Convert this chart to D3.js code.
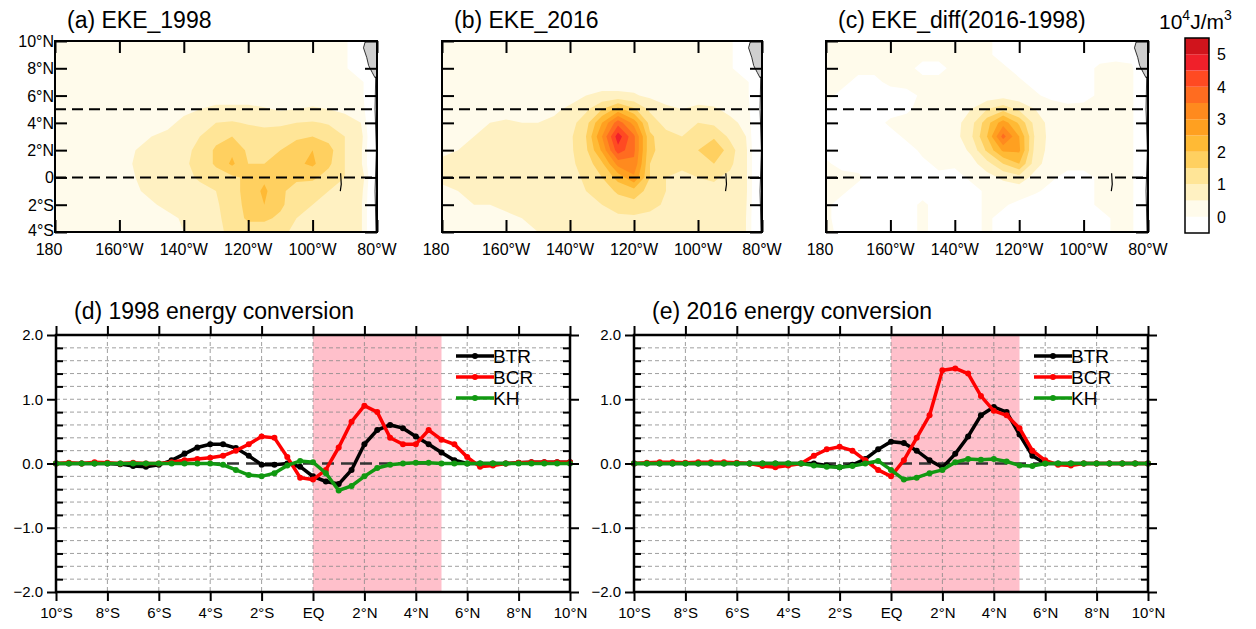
<!DOCTYPE html>
<html lang="en">
<head>
<meta charset="UTF-8">
<script src="https://d3js.org/d3.v7.min.js"></script>
<style>
  body { margin: 0; background: #fff; }
  text { font-family: "Liberation Sans", Arial, sans-serif; }
</style>
</head>
<body>
<div id="draw_here"></div>
<script>
// ---- map data: EKE grids, rows lat 10N..4S (1 deg), cols 180..80W (5 deg)
var mapLons = d3.range(180, 79, -5);
var mapLats = d3.range(10, -5, -1);

var eke1998 = [
  [.2,.2,.2,.2,.2,.2,.2,.2,.2,.2,.2,.2,.2,.2,.2,.2,.2,.2,.2,-1,-1],
  [.2,.2,.2,.2,.2,.2,.2,.2,.2,.2,.2,.2,.2,.2,.2,.2,.2,.2,.2,-1,-1],
  [.2,.2,.2,.2,.2,.2,.2,.2,.2,.2,.2,.2,.2,.2,.2,.2,.2,.2,.2,-1,-1],
  [.2,.2,.2,.2,.2,.2,.2,.2,.2,.2,.2,.2,.2,.2,.2,.2,.2,.2,.2,.2,-1],
  [.2,.2,.2,.2,.2,.2,.2,.2,.2,.2,.3,.3,.3,.2,.2,.2,.3,.3,.2,.2,-1],
  [.2,.2,.2,.2,.2,.2,.2,.3,.4,.5,.6,.6,.6,.55,.45,.5,.55,.5,.4,.3,-1],
  [.2,.2,.2,.2,.2,.2,.3,.4,.6,.8,1.0,1.05,.95,.9,.9,1.0,1.05,.95,.7,.5,-1],
  [.2,.2,.2,.2,.3,.4,.5,.6,.8,1.0,1.3,1.5,1.3,1.2,1.3,1.4,1.5,1.3,1.0,.7,-1],
  [.2,.2,.2,.2,.3,.5,.7,.8,.9,1.1,1.6,1.9,1.4,1.3,1.5,1.8,2.0,1.7,1.0,.6,-1],
  [.2,.2,.2,.2,.3,.55,.75,.85,.95,1.1,1.6,2.1,1.5,1.5,1.6,1.9,2.1,1.6,1.0,.6,-1],
  [.2,.2,.2,.2,.3,.5,.7,.85,.9,1.05,1.2,1.4,1.6,1.9,1.6,1.6,1.6,1.3,1.0,.9,-1],
  [.2,.2,.2,.2,.3,.45,.6,.8,.85,.9,1.0,1.3,1.7,2.1,1.6,1.3,1.2,1.0,.8,.7,-1],
  [.2,.2,.2,.2,.2,.3,.45,.6,.7,.8,.95,1.2,1.7,2.0,1.6,1.2,1.0,.8,.7,.6,-1],
  [.2,.2,.2,.2,.2,.2,.3,.4,.55,.7,.9,1.2,1.6,1.6,1.4,1.0,.8,.7,.7,.6,-1],
  [.2,.2,.2,.2,.2,.2,.25,.35,.5,.7,.9,1.1,1.2,1.2,1.1,.9,.8,.7,.6,.6,-1]
];

var eke2016 = [
  [.2,.2,.2,.2,.2,.2,.2,.2,.2,.2,.2,.2,.2,.2,.2,.2,.2,.2,.2,-1,-1],
  [.2,.2,.2,.2,.2,.2,.2,.2,.2,.2,.2,.2,.2,.2,.2,.2,.2,.2,.2,-1,-1],
  [.2,.2,.2,.2,.2,.2,.2,.2,.2,.2,.2,.2,.2,.2,.2,.2,.2,.2,.2,-1,-1],
  [.2,.2,.2,.2,.2,.2,.2,.2,.2,.2,.3,.3,.3,.2,.2,.2,.2,.2,.2,.2,-1],
  [.2,.2,.2,.2,.2,.2,.2,.2,.3,.5,.6,.6,.55,.4,.3,.3,.3,.3,.2,.2,-1],
  [.2,.2,.2,.2,.2,.2,.3,.4,.6,.9,1.5,2.2,1.6,.9,.6,.5,.6,.55,.4,.3,-1],
  [.2,.2,.3,.5,.6,.5,.5,.6,.8,1.3,2.5,3.8,2.8,1.3,.8,.8,1.0,.9,.6,.4,-1],
  [.3,.4,.5,.6,.6,.6,.6,.7,.9,1.5,3.0,4.8,3.6,1.6,1.2,1.0,1.3,1.4,.9,.5,-1],
  [.4,.5,.5,.6,.6,.6,.6,.7,.9,1.4,2.6,4.3,3.6,1.6,1.3,1.2,1.5,2.0,1.2,.6,-1],
  [.6,.6,.6,.5,.5,.6,.7,.8,.9,1.2,1.9,3.2,3.4,1.5,1.1,1.1,1.3,1.5,1.1,.6,-1],
  [.6,.6,.6,.55,.6,.7,.8,.85,.9,1.05,1.5,2.2,2.9,1.5,1.0,.9,1.0,1.05,.9,.6,-1],
  [.4,.5,.6,.6,.65,.7,.8,.85,.9,1.0,1.2,1.6,1.8,1.3,1.0,.9,.9,.9,.8,.6,-1],
  [.3,.4,.5,.5,.55,.6,.7,.8,.85,.9,1.0,1.2,1.3,1.1,.95,.9,.9,.85,.7,.55,-1],
  [.2,.3,.4,.4,.45,.5,.6,.7,.75,.8,.85,.9,.9,.9,.85,.8,.8,.75,.65,.5,-1],
  [.2,.3,.35,.4,.4,.45,.5,.6,.65,.7,.75,.8,.8,.8,.75,.7,.7,.65,.6,.5,-1]
];

var ekeDiff = [
  [.1,.1,.1,.1,.1,.1,.1,.1,.05,.1,.05,-.1,-.1,-.2,-.2,-.2,-.2,-.2,-.2,-.3,-1],
  [.1,.1,.1,.1,.05,.1,.1,.1,.1,.1,.05,-.1,-.2,-.2,-.2,-.2,-.2,-.1,-.1,-.2,-1],
  [.1,.1,.1,.1,.1,.1,-.1,-.1,.1,.1,.1,.05,-.1,-.2,-.2,-.2,-.1,.05,.1,.1,-1],
  [.1,.1,-.1,-.1,.1,.1,.1,.1,.1,.1,.1,.1,.05,-.1,-.2,-.2,-.1,.05,.1,.1,-1],
  [.1,-.1,-.1,-.1,-.2,-.1,.05,.1,.1,.15,.2,.3,.2,.05,-.1,-.15,-.1,.05,.1,.1,-1],
  [-.1,-.2,-.1,-.1,-.1,-.05,.1,.1,.2,.5,1.0,1.3,.9,.5,.2,.1,.1,.1,.1,.1,-1],
  [-.2,-.2,-.2,-.1,.05,.1,.1,.1,.3,.8,1.8,2.8,1.9,.8,.3,.15,.2,.2,.1,.1,-1],
  [-.1,-.1,-.2,-.2,-.1,.05,.1,.1,.3,.9,2.0,3.7,2.5,.9,.3,.3,.5,.4,.2,.1,-1],
  [-.1,-.1,-.2,-.2,-.2,-.1,.05,.05,.2,.6,1.6,2.6,2.6,.8,.3,.3,.4,.3,.1,.1,-1],
  [.05,-.1,-.1,-.1,-.1,-.1,-.05,.05,.05,.3,.8,1.5,2.0,.7,.2,.1,.1,.1,.05,.1,-1],
  [.1,.1,.05,-.1,-.1,-.1,-.1,-.05,-.1,.05,.3,.6,.8,.3,.05,-.1,-.1,.05,.1,.1,-1],
  [.1,.05,-.1,-.1,-.2,-.2,-.1,-.1,-.2,-.1,.05,.2,.2,.05,-.1,-.2,-.1,.05,.1,.1,-1],
  [.05,-.1,-.1,-.2,-.2,-.1,.05,-.1,-.2,-.1,.05,.05,-.1,-.2,-.2,-.2,-.1,.05,.1,.1,-1],
  [.05,-.1,-.2,-.2,-.2,-.1,.05,-.1,-.2,-.1,.05,-.1,-.2,-.2,-.2,-.2,-.1,-.1,.05,.1,-1],
  [.1,-.1,-.1,-.2,-.2,-.1,.05,-.1,-.2,-.1,.05,-.1,-.2,-.2,-.2,-.2,-.2,-.1,.05,.1,-1]
];

var levels = d3.range(0, 5.01, 0.5);
var levelColors = ["#fffbeb","#fff1c2","#ffe597","#ffd060","#ffba35","#ffa020",
                   "#ff8a1e","#ff6c20","#ff4a22","#f0202a","#d0141c"];
var cbLabels = [0, 1, 2, 3, 4, 5];

// ---- energy conversion, lat -10..10 every 0.5 deg
var lats = d3.range(-10, 10.01, 0.5);
var btr1998 = [0,0,0,0,0,-.01,-.04,-.05,-.02,.05,.15,.25,.3,.3,.24,.12,-.02,-.02,0,-.05,
               -.2,-.28,-.32,-.1,.3,.52,.6,.55,.42,.3,.17,.05,0,0,0,0,.01,.02,.02,.02,.02];
var bcr1998 = [0,.01,0,.02,.01,0,.01,0,0,.02,.05,.07,.09,.12,.2,.3,.42,.4,.1,-.22,
               -.25,-.1,.25,.65,.9,.8,.4,.3,.3,.52,.37,.3,.1,-.05,-.03,0,.01,.02,.02,.02,.02];
var kh1998 = [0,0,0,0,0,0,0,0,0,0,0,0,0,-.02,-.1,-.18,-.2,-.15,-.03,.04,
              .02,-.15,-.42,-.35,-.2,-.07,-.02,0,.01,.01,0,0,0,0,0,0,0,0,0,0,0];
var btr2016 = [0,0,0,0,0,0,0,0,0,0,0,0,0,0,0,-.03,-.06,-.02,.07,.22,
               .34,.32,.2,.05,-.06,.15,.42,.75,.88,.8,.45,.12,0,0,0,0,0,0,0,0,0];
var bcr2016 = [0,.01,.02,.02,.01,.02,.02,.02,.01,0,-.04,-.06,-.03,0,.12,.22,.26,.2,.05,-.1,
               -.2,.05,.4,.75,1.45,1.48,1.4,1.05,.82,.75,.55,.2,.05,-.02,-.03,0,0,0,0,0,0];
var kh2016 = [0,0,0,0,0,0,0,0,0,0,0,0,0,0,-.03,-.05,-.06,-.04,0,.04,
              -.1,-.25,-.22,-.15,-.1,.02,.07,.06,.07,.03,-.03,-.04,0,0,0,0,0,0,0,0,0];
var seriesNames = ["BTR", "BCR", "KH"];
var seriesColors = ["#000000", "#ff0000", "#119911"];

var svg = d3.select("#draw_here").append("svg")
    .attr("width", 1256).attr("height", 629);

function lonLabel(d) { return d === 180 ? "180" : d + "°W"; }
function latLabel(d) { return d === 0 ? "0" : Math.abs(d) + (d > 0 ? "°N" : "°S"); }

function drawMap(grid, left, width, title, id, showLat) {
    var top = 41, height = 191;
    var x = d3.scaleLinear().domain([180, 80]).range([left, left + width]);
    var y = d3.scaleLinear().domain([10, -4]).range([top, top + height]);
    var g = svg.append("g");
    g.append("clipPath").attr("id", id).append("rect")
        .attr("x", left).attr("y", top).attr("width", width).attr("height", height);

    var flat = [];
    grid.forEach(r => r.forEach(v => flat.push(v)));
    var contours = d3.contours().size([mapLons.length, mapLats.length]).thresholds(levels)(flat);
    // grid index -> lon/lat -> pixel
    var gx = d3.scaleLinear().domain([0.5, mapLons.length - 0.5]).range([x(180), x(80)]);
    var gy = d3.scaleLinear().domain([0.5, mapLats.length - 0.5]).range([y(10), y(-4)]);
    var proj = d3.geoTransform({ point: function(px, py) { this.stream.point(gx(px), gy(py)); } });
    var path = d3.geoPath(proj);
    g.append("g").attr("clip-path", "url(#" + id + ")")
        .selectAll("path").data(contours).join("path")
        .attr("d", path)
        .attr("fill", (d, i) => levelColors[i]);

    // land
    var land = [[80,10],[83.6,10],[84.2,9.5],[83.2,8.8],[82.6,8.2],[81.5,7.7],[80.6,7.3],[80,7.4]];
    g.append("path").attr("d", d3.line().x(d => x(d[0])).y(d => y(d[1]))(land) + "Z")
        .attr("fill", "#cfcfcf").attr("stroke", "#000").attr("stroke-width", 0.8)
        .attr("clip-path", "url(#" + id + ")");
    g.append("path").attr("d", d3.line().x(d => x(d[0])).y(d => y(d[1]))([[80.4,7.4],[80.6,5],[80.2,2],[80.6,-1],[80.3,-4]]))
        .attr("fill", "none").attr("stroke", "#000").attr("stroke-width", 0.8)
        .attr("clip-path", "url(#" + id + ")");
    g.append("path").attr("d", d3.line().x(d => x(d[0])).y(d => y(d[1]))([[91.3,0.3],[91.1,-0.5],[91.4,-1]]))
        .attr("fill", "none").attr("stroke", "#000").attr("stroke-width", 1.2);

    [0, 5].forEach(lat => g.append("line")
        .attr("x1", left).attr("x2", left + width).attr("y1", y(lat)).attr("y2", y(lat))
        .attr("stroke", "#000").attr("stroke-width", 2).attr("stroke-dasharray", "11,6"));

    g.append("rect").attr("x", left).attr("y", top).attr("width", width).attr("height", height)
        .attr("fill", "none").attr("stroke", "#000").attr("stroke-width", 2);

    var lonTicks = [180, 160, 140, 120, 100, 80];
    var latTicks = [10, 8, 6, 4, 2, 0, -2, -4];
    g.append("g").attr("transform", `translate(0,${top + height})`)
        .call(d3.axisTop(x).tickValues(lonTicks).tickSize(12).tickFormat(""))
        .call(a => a.select(".domain").remove());
    g.append("g").attr("transform", `translate(0,${top})`)
        .call(d3.axisBottom(x).tickValues(lonTicks).tickSize(12).tickFormat(""))
        .call(a => a.select(".domain").remove());
    g.append("g").attr("transform", `translate(${left},0)`)
        .call(d3.axisRight(y).tickValues(latTicks).tickSize(12).tickFormat(""))
        .call(a => a.select(".domain").remove());
    g.append("g").attr("transform", `translate(${left + width},0)`)
        .call(d3.axisLeft(y).tickValues(latTicks).tickSize(12).tickFormat(""))
        .call(a => a.select(".domain").remove());
    g.selectAll(".tick line").attr("stroke-width", 2);

    g.selectAll(".lonlab").data(lonTicks).join("text")
        .attr("x", d => x(d) + (d === 180 ? -6 : 0)).attr("y", top + height + 23)
        .attr("text-anchor", "middle").attr("font-size", 16).text(lonLabel);
    if (showLat) {
        g.selectAll(".latlab").data(latTicks).join("text")
            .attr("x", left - 1).attr("y", d => y(d) + 6 + (d === -4 ? -2 : 0))
            .attr("text-anchor", "end").attr("font-size", 16).text(latLabel);
    }
    g.append("text").attr("x", left + 12).attr("y", 28).attr("font-size", 23).text(title);
}

drawMap(eke1998, 55, 322, "(a) EKE_1998", "clipA", true);
drawMap(eke2016, 442, 320, "(b) EKE_2016", "clipB", false);
drawMap(ekeDiff, 826, 322, "(c) EKE_diff(2016-1998)", "clipC", false);

// colorbar
var cbY = d3.scaleLinear().domain([-0.5, 5.5]).range([233, 38]);
var cbBoxes = [-0.5].concat(levels);
svg.append("g").selectAll("rect").data(cbBoxes).join("rect")
    .attr("x", 1185).attr("width", 24)
    .attr("y", d => cbY(d + 0.5)).attr("height", d => cbY(d) - cbY(d + 0.5))
    .attr("fill", (d, i) => i === 0 ? "#ffffff" : levelColors[i - 1]);
svg.append("rect").attr("x", 1185).attr("y", 38).attr("width", 24).attr("height", 195)
    .attr("fill", "none").attr("stroke", "#000").attr("stroke-width", 1.5);
svg.append("g").selectAll("text").data(cbLabels).join("text")
    .attr("x", 1217).attr("y", d => cbY(d) + 6).attr("font-size", 16).text(d => d);
var cbt = svg.append("text").attr("x", 1159).attr("y", 29).attr("font-size", 21);
cbt.append("tspan").text("10");
cbt.append("tspan").attr("font-size", 14).attr("dy", -9).text("4");
cbt.append("tspan").attr("dy", 9).text("J/m");
cbt.append("tspan").attr("font-size", 14).attr("dy", -9).text("3");

// ---- line panels
function drawLines(left, title, series) {
    var top = 335, height = 257, width = 514;
    var x = d3.scaleLinear().domain([-10, 10]).range([left, left + width]);
    var y = d3.scaleLinear().domain([-2, 2]).range([top + height, top]);
    var g = svg.append("g");

    g.append("rect").attr("x", x(0)).attr("y", top).attr("width", x(5) - x(0)).attr("height", height)
        .attr("fill", "#ffc0cb");

    var grid = g.append("g").attr("stroke", "#888").attr("stroke-width", 0.8).attr("stroke-dasharray", "4,3");
    grid.selectAll(".vg").data(d3.range(-8, 9, 2)).join("line")
        .attr("x1", d => x(d)).attr("x2", d => x(d)).attr("y1", top).attr("y2", top + height);
    grid.selectAll(".hg").data(d3.range(-9, 10).filter(k => k !== 0).map(k => k / 5)).join("line")
        .attr("x1", left).attr("x2", left + width).attr("y1", d => y(d)).attr("y2", d => y(d));
    g.append("line").attr("x1", left).attr("x2", left + width).attr("y1", y(0)).attr("y2", y(0))
        .attr("stroke", "#333").attr("stroke-width", 2.5).attr("stroke-dasharray", "12,7");

    var line = d3.line().x((d, i) => x(lats[i])).y(d => y(d));
    series.forEach((s, k) => {
        g.append("path").attr("d", line(s)).attr("fill", "none")
            .attr("stroke", seriesColors[k]).attr("stroke-width", 3.5);
        g.append("g").selectAll("circle").data(s).join("circle")
            .attr("cx", (d, i) => x(lats[i])).attr("cy", d => y(d)).attr("r", 3)
            .attr("fill", seriesColors[k]);
    });

    // legend
    seriesNames.forEach((n, k) => {
        var ly = top + 21 + k * 21;
        var lx = left + width - 114;
        g.append("line").attr("x1", lx).attr("x2", lx + 38).attr("y1", ly).attr("y2", ly)
            .attr("stroke", seriesColors[k]).attr("stroke-width", 3.5);
        g.append("circle").attr("cx", lx + 19).attr("cy", ly).attr("r", 3).attr("fill", seriesColors[k]);
        g.append("text").attr("x", lx + 37).attr("y", ly + 7).attr("font-size", 19).text(n);
    });

    g.append("rect").attr("x", left).attr("y", top).attr("width", width).attr("height", height)
        .attr("fill", "none").attr("stroke", "#000").attr("stroke-width", 2.5);

    var xt = d3.range(-10, 10.01, 2);
    var fmtX = d => d === 0 ? "EQ" : Math.abs(d) + (d > 0 ? "°N" : "°S");
    g.append("g").attr("transform", `translate(0,${top + height})`)
        .call(d3.axisBottom(x).tickValues(xt).tickSize(9).tickPadding(6).tickFormat(fmtX))
        .call(a => a.select(".domain").remove());
    g.append("g").attr("transform", `translate(0,${top})`)
        .call(d3.axisTop(x).tickValues(xt).tickSize(9).tickFormat(""))
        .call(a => a.select(".domain").remove());
    var minor = d3.range(-9, 10).filter(k => k % 5 !== 0).map(k => k / 5);
    g.append("g").attr("transform", `translate(${left},0)`)
        .call(d3.axisLeft(y).tickValues([-2, -1, 0, 1, 2]).tickSize(9).tickPadding(4).tickFormat(d3.format(".1f")))
        .call(a => a.select(".domain").remove());
    g.append("g").attr("transform", `translate(${left},0)`)
        .call(d3.axisRight(y).tickValues(minor).tickSize(7).tickFormat(""))
        .call(a => a.select(".domain").remove());
    g.append("g").attr("transform", `translate(${left + width},0)`)
        .call(d3.axisRight(y).tickValues([-2, -1, 0, 1, 2]).tickSize(9).tickFormat(""))
        .call(a => a.select(".domain").remove());
    g.append("g").attr("transform", `translate(${left + width},0)`)
        .call(d3.axisLeft(y).tickValues(minor).tickSize(7).tickFormat(""))
        .call(a => a.select(".domain").remove());
    g.selectAll(".tick line").attr("stroke-width", 2);
    g.selectAll(".tick text").attr("font-size", 15).attr("font-family", "Liberation Sans, Arial, sans-serif");

    g.append("text").attr("x", left + 18).attr("y", top - 16).attr("font-size", 23).text(title);
}

drawLines(56, "(d) 1998 energy conversion", [btr1998, bcr1998, kh1998]);
drawLines(634, "(e) 2016 energy conversion", [btr2016, bcr2016, kh2016]);
</script>
</body>
</html>
